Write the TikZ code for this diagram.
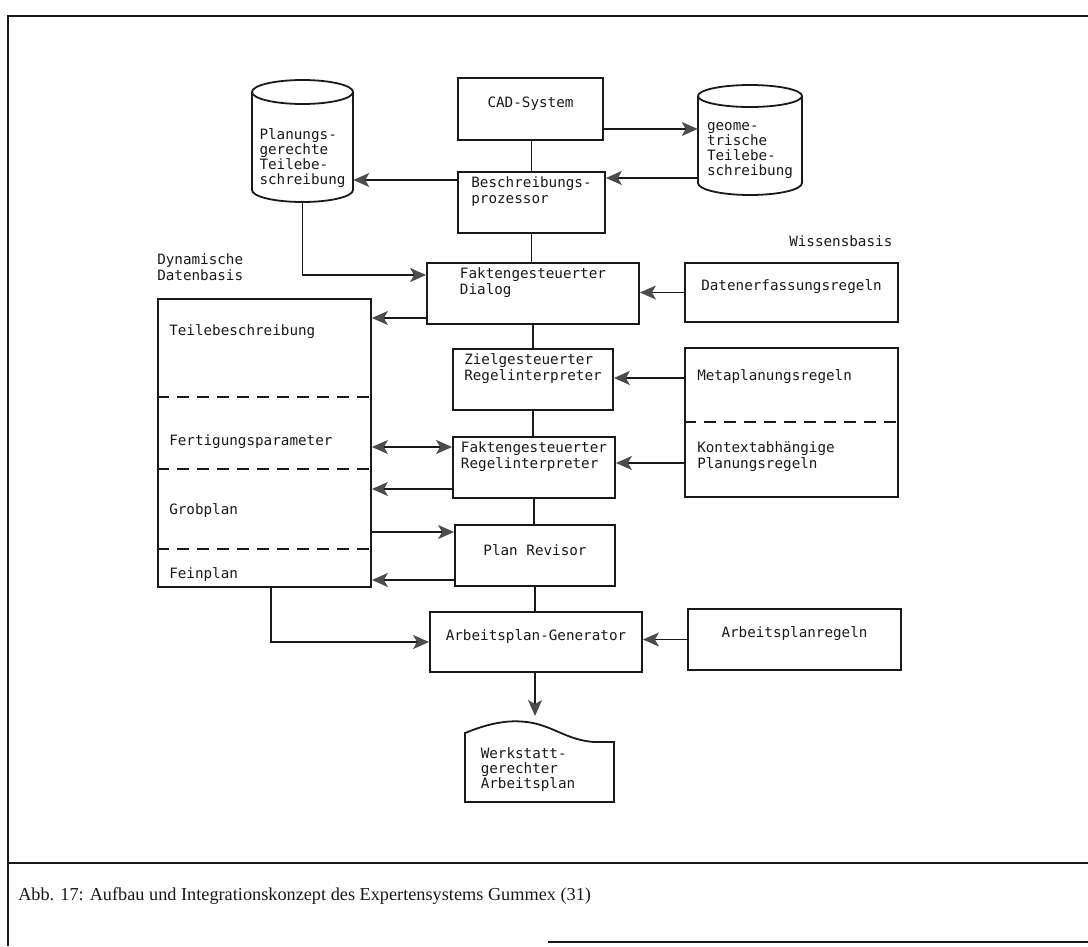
\documentclass[tikz,border=0pt]{standalone}
\usepackage{fontspec}
\setmainfont{Liberation Serif}
\newfontfamily\dotfont{DejaVu Sans Mono}
\usetikzlibrary{arrows.meta,fit}

\definecolor{ink}{gray}{0.1}
\definecolor{headgray}{gray}{0.3}

% left-aligned block of lines
\newcommand\leftlines[1]{\begin{tabular}{@{}l@{}}#1\end{tabular}}

\begin{document}
\begin{tikzpicture}[x=0.75pt,y=-0.75pt,
  every node/.style={text=ink},
  dm/.style={font={\dotfont\fontsize{10.7pt}{12pt}\selectfont}},
  dmtight/.style={font={\dotfont\fontsize{10.7pt}{10.6pt}\selectfont}},
  procbox/.style={draw=ink, line width=1.35pt, rectangle, inner sep=0pt, dm},
  ghost/.style={rectangle, inner sep=0pt, draw=none, dmtight},
  outline/.style={draw=ink, line width=1.35pt},
  conn/.style={draw=ink, line width=1pt},
  tip/.tip={Stealth[length=12pt,width=10.5pt,inset=3pt,color=headgray]},
  arr/.style={conn, -tip},
  dblarr/.style={conn, tip-tip},
  divider/.style={draw=ink, line width=1pt, dash pattern=on 9pt off 6pt},
  frameline/.style={draw=ink, line width=2.2pt},
  lbl/.style={dm, inner sep=0pt},
  captionfont/.style={font={\fontsize{13.7pt}{16pt}\selectfont}}
]
\useasboundingbox (0,0) rectangle (1088,946);

% page frame and caption rules
\draw[frameline] (8,946) -- (8,16) -- (1088,16);
\draw[frameline] (8,863) -- (1088,863);
\draw[frameline] (548,942) -- (1088,942);

% processing chain
\node[procbox, fit={(458,78) (603,140)}] (cad) {CAD-System};
\node[procbox, fit={(458,172) (605,233)}] (bp) {\leftlines{Beschreibungs-\\prozessor}};
\node[procbox, fit={(427,263) (639,324)}] (dlg) {\leftlines{Faktengesteuerter\\Dialog}};
\node[procbox, fit={(453,349) (613,410)}] (zri) {\leftlines{Zielgesteuerter\\Regelinterpreter}};
\node[procbox, fit={(453,437) (615,498)}] (fri) {\leftlines{Faktengesteuerter\\Regelinterpreter}};
\node[procbox, fit={(455,525) (615,586)}] (prv) {Plan Revisor};
\node[procbox, fit={(430,612) (642,672)}] (ag) {Arbeitsplan-Generator};

% knowledge base
\node[lbl, anchor=west] (wb) at (789,241) {Wissensbasis};
\node[procbox, fit={(685,263) (898,322)}] (der) {Datenerfassungsregeln};
\node[procbox, fit={(685,348) (898,497)}] (rules) {};
\draw[divider] (rules.west |- 0,422) -- (rules.east |- 0,422);
\node[lbl, anchor=west] (meta) at (697,377) {Metaplanungsregeln};
\node[lbl, anchor=west] (kpr) at (697,457) {\leftlines{Kontextabhängige\\Planungsregeln}};
\node[procbox, fit={(688,609) (901,670)}] (apr) {Arbeitsplanregeln};

% dynamic data base
\node[lbl, anchor=west] (ddb) at (157,269) {\leftlines{Dynamische\\Datenbasis}};
\node[procbox, fit={(158,299) (371,587)}] (db) {};
\draw[divider] (db.west |- 0,397) -- (db.east |- 0,397);
\draw[divider] (db.west |- 0,469) -- (db.east |- 0,469);
\draw[divider] (db.west |- 0,549) -- (db.east |- 0,549);
\node[lbl, anchor=west] (tb) at (169,332) {Teilebeschreibung};
\node[lbl, anchor=west] (fp) at (169,442) {Fertigungsparameter};
\node[lbl, anchor=west] (gp) at (169,511) {Grobplan};
\node[lbl, anchor=west] (fpl) at (169,575) {Feinplan};

% data stores (cylinders)
\draw[outline] (252,92) -- (252,190) arc[start angle=180, end angle=0, x radius=50.5, y radius=12] -- (353,92);
\draw[outline] (302.5,92) ellipse[x radius=50.5, y radius=12];
\node[ghost, fit={(252,80) (353,202)}] (lcyl) {};
\node[ghost] (ltext) at (302.5,159) {\leftlines{Planungs-\\gerechte\\Teilebe-\\schreibung}};

\draw[outline] (698,96) -- (698,183) arc[start angle=180, end angle=0, x radius=52, y radius=12] -- (802,96);
\draw[outline] (750,96) ellipse[x radius=52, y radius=11];
\node[ghost, fit={(698,85) (802,195)}] (rcyl) {};
\node[ghost] (rtext) at (750,150) {\leftlines{geome-\\trische\\Teilebe-\\schreibung}};

% output document
\draw[outline] (465,733) .. controls (492,722) and (512,719) .. (533,723)
  .. controls (556,728) and (568,740) .. (594,742) -- (614,742) -- (614,802) -- (465,802) -- cycle;
\node[ghost] (doc) at (528,770) {\leftlines{Werkstatt-\\gerechter\\Arbeitsplan}};
\coordinate (doctop) at (535,716);

% connectors
\draw[conn] (bp.north) -- (bp.north |- cad.south);
\draw[arr] (cad.east |- 0,129) -- (rcyl.west |- 0,129);
\draw[arr] (rcyl.west |- 0,178) -- (bp.east |- 0,178);
\draw[arr] (bp.west |- 0,180) -- (lcyl.east |- 0,180);
\draw[arr] (lcyl.south) |- (dlg.west |- 0,275);
\draw[conn] (dlg.north -| bp.south) -- (bp.south);
\draw[arr] (dlg.west |- 0,318) -- (db.east |- 0,318);
\draw[conn] (dlg.south -| 533,0) -- (zri.north -| 533,0);
\draw[conn] (zri.south -| 533,0) -- (fri.north -| 533,0);
\draw[conn] (fri.south -| 534,0) -- (prv.north -| 534,0);
\draw[conn] (prv.south -| 535,0) -- (ag.north -| 535,0);
\draw[arr] (der.west) -- (der.west -| dlg.east);
\draw[arr] (rules.west |- 0,378) -- (zri.east |- 0,378);
\draw[arr] (rules.west |- 0,463) -- (fri.east |- 0,463);
\draw[dblarr] (db.east |- 0,447) -- (fri.west |- 0,447);
\draw[arr] (fri.west |- 0,489) -- (db.east |- 0,489);
\draw[arr] (db.east |- 0,532) -- (prv.west |- 0,532);
\draw[arr] (prv.west |- 0,580) -- (db.east |- 0,580);
\draw[arr] (db.south -| 271,0) |- (ag.west);
\draw[arr] (apr.west) -- (apr.west -| ag.east);
\draw[arr] (ag.south -| doctop) -- (doctop);

% caption
\node[anchor=west, inner sep=0pt, captionfont] (cap) at (18,896)
  {Abb. 17: Aufbau und Integrationskonzept des Expertensystems Gummex (31)};
\end{tikzpicture}
\end{document}
